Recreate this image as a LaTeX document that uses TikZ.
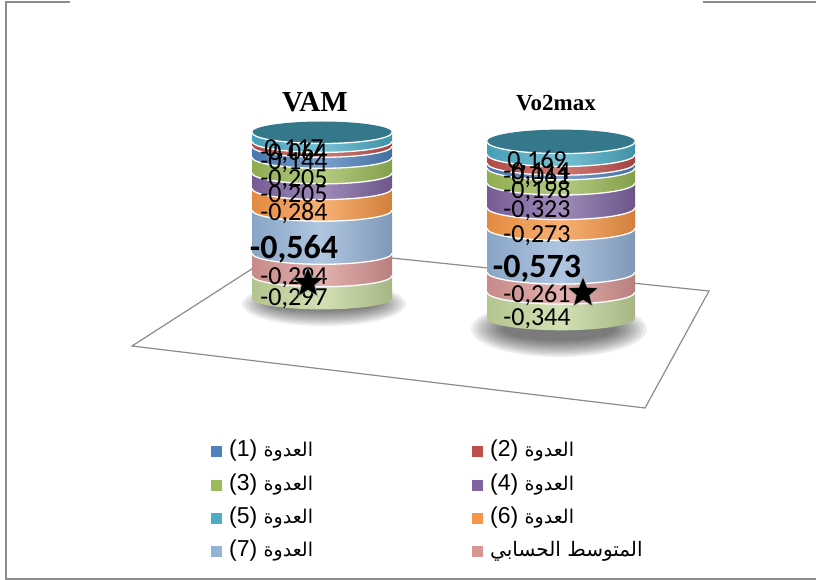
\documentclass[tikz,border=0pt]{standalone}
\usepackage{fontspec}
\setmainfont{Liberation Sans}
\newfontfamily\lblfont{Carlito}
\newfontfamily\ttlfont{Liberation Serif}
\newfontfamily\arabicfont[Script=Arabic]{DejaVu Sans}
\TeXXeTstate=1
\usetikzlibrary{shapes.geometric}
\definecolor{cBlue}{HTML}{4F81BD}
\definecolor{cRed}{HTML}{C0504D}
\definecolor{cGreen}{HTML}{9BBB59}
\definecolor{cPurple}{HTML}{8064A2}
\definecolor{cTeal}{HTML}{4BACC6}
\definecolor{cOrange}{HTML}{F79646}
\definecolor{cLightBlue}{HTML}{95B3D7}
\definecolor{cPink}{HTML}{D99694}
\definecolor{cLightGreen}{HTML}{C3D69B}
\definecolor{cFrame}{HTML}{8C8C8C}
% band of a cylinder: cx, rx, ry, top, bottom, colour
\newcommand{\cylband}[6]{%
  \shade[left color=#6!92!black, right color=#6!85!black, middle color=#6!75!white]
    (#1-#2,#4) -- (#1-#2,#5) arc[start angle=180, end angle=0, x radius=#2, y radius=#3]
    -- (#1+#2,#4) arc[start angle=0, end angle=180, x radius=#2, y radius=#3] -- cycle;
  \draw[white, line width=1.3pt] (#1-#2,#4) arc[start angle=180, end angle=0, x radius=#2, y radius=#3];}
% soft shadow: cx, cy, rx, ry
\newcommand{\cylshadow}[4]{%
  \foreach \k in {0,...,9}
    \fill[black, opacity=0.07] (#1,#2) ellipse [x radius=#3-\k*3.5, y radius=#4-\k*1.8];}
% legend word
\newcommand{\legword}{{\arabicfont\fontsize{19}{20}\selectfont\beginR العدوة\endR}}

\begin{document}
\begin{tikzpicture}[x=1pt, y=-1pt,
    lbl/.style={font=\lblfont\fontsize{26}{26}\selectfont, anchor=base, inner sep=0pt},
    big/.style={font=\lblfont\bfseries\fontsize{34}{34}\selectfont, anchor=base, inner sep=0pt},
    legsq/.style={minimum size=11pt, inner sep=0pt},
    legtxt/.style={font=\fontsize{23}{23}\selectfont, anchor=west, inner sep=0pt},
    starmark/.style={star, star points=5, star point ratio=2.3, fill=black, inner sep=0pt, minimum size=30pt}]
  \useasboundingbox (0,0) rectangle (816,580);
  % frame
  \draw[cFrame, line width=1.8pt] (70,2) -- (6,2) -- (6,579) -- (816,579);
  \draw[cFrame, line width=1.8pt] (703,2) -- (816,2);

  % floor and shadows
  \cylshadow{324}{304}{82}{22}
  \cylshadow{559}{329}{88}{28}
  \draw[cFrame, line width=1.2pt] (132,346) -- (286,247) -- (709,291) -- (645,408) -- cycle;

  % VAM
  \fill[cTeal!70!black] (322,132.5) ellipse [x radius=70, y radius=11];
  \cylband{322}{70}{11}{132.5}{141.4}{cTeal}
  \cylband{322}{70}{11}{141.4}{146.3}{cRed}
  \cylband{322}{70}{11}{146.3}{157.3}{cBlue}
  \cylband{322}{70}{11}{157.3}{172.9}{cGreen}
  \cylband{322}{70}{11}{172.9}{188.6}{cPurple}
  \cylband{322}{70}{11}{188.6}{210.2}{cOrange}
  \cylband{322}{70}{11}{210.2}{253.3}{cLightBlue}
  \cylband{322}{70}{11}{253.3}{275.7}{cPink}
  \cylband{322}{70}{11}{275.7}{298.4}{cLightGreen}
  \node[font=\ttlfont\bfseries\fontsize{29}{29}\selectfont] (vam) at (315,102) {VAM};
  \node[lbl] (vamA) at (294,157) {0,117};
  \node[lbl] (vamB) at (294,161) {-0,064};
  \node[lbl] (vamC) at (294,170) {-0,144};
  \node[lbl] (vamD) at (294,187) {-0,205};
  \node[lbl] (vamE) at (294,203) {-0,205};
  \node[lbl] (vamF) at (294,220) {-0,284};
  \node[big] (vamG) at (294,258) {-0,564};
  \node[lbl] (vamH) at (294,284) {-0,294};
  \node[lbl] (vamI) at (294,305) {-0,297};
  \node[starmark, fill=black!40, opacity=0.5, minimum size=36pt] (vamGlow) at (308,283) {};
  \node[starmark] (vamStar) at (308,283) {};

  % Vo2max
  \fill[cTeal!70!black] (561,141.6) ellipse [x radius=74, y radius=12];
  \cylband{561}{74}{12}{141.6}{154.5}{cTeal}
  \cylband{561}{74}{12}{154.5}{163.2}{cRed}
  \cylband{561}{74}{12}{163.2}{167.9}{cBlue}
  \cylband{561}{74}{12}{167.9}{183.0}{cGreen}
  \cylband{561}{74}{12}{183.0}{207.6}{cPurple}
  \cylband{561}{74}{12}{207.6}{228.4}{cOrange}
  \cylband{561}{74}{12}{228.4}{272.1}{cLightBlue}
  \cylband{561}{74}{12}{272.1}{292.1}{cPink}
  \cylband{561}{74}{12}{292.1}{318.3}{cLightGreen}
  \node[font=\ttlfont\bfseries\fontsize{23}{23}\selectfont] (vo2) at (556,103) {Vo2max};
  \node[lbl] (voA) at (537,169) {0,169};
  \node[lbl] (voB) at (537,180) {-0,114};
  \node[lbl] (voC) at (537,185) {-0,061};
  \node[lbl] (voD) at (537,199) {-0,198};
  \node[lbl] (voE) at (537,218) {-0,323};
  \node[lbl] (voF) at (537,242) {-0,273};
  \node[big] (voG) at (537,277) {-0,573};
  \node[lbl] (voH) at (537,302) {-0,261};
  \node[lbl] (voI) at (537,325) {-0,344};
  \node[starmark, fill=black!40, opacity=0.5, minimum size=36pt] (voGlow) at (583,293) {};
  \node[starmark] (voStar) at (583,293) {};

  % legend
  \node[legsq, fill=cBlue] (sq1) at (216,451) {};
  \node[legtxt] (lg1) at (229,451) {(1) \legword};
  \node[legsq, fill=cRed] (sq2) at (477,451) {};
  \node[legtxt] (lg2) at (490,451) {(2) \legword};
  \node[legsq, fill=cGreen] (sq3) at (216,485) {};
  \node[legtxt] (lg3) at (229,485) {(3) \legword};
  \node[legsq, fill=cPurple] (sq4) at (477,485) {};
  \node[legtxt] (lg4) at (490,485) {(4) \legword};
  \node[legsq, fill=cTeal] (sq5) at (216,518) {};
  \node[legtxt] (lg5) at (229,518) {(5) \legword};
  \node[legsq, fill=cOrange] (sq6) at (477,518) {};
  \node[legtxt] (lg6) at (490,518) {(6) \legword};
  \node[legsq, fill=cLightBlue] (sq7) at (216,551) {};
  \node[legtxt] (lg7) at (229,551) {(7) \legword};
  \node[legsq, fill=cPink] (sq8) at (477,551) {};
  \node[legtxt] (lg8) at (490,551) {{\arabicfont\fontsize{20}{20}\selectfont\beginR المتوسط الحسابي\endR}};
\end{tikzpicture}
\end{document}
